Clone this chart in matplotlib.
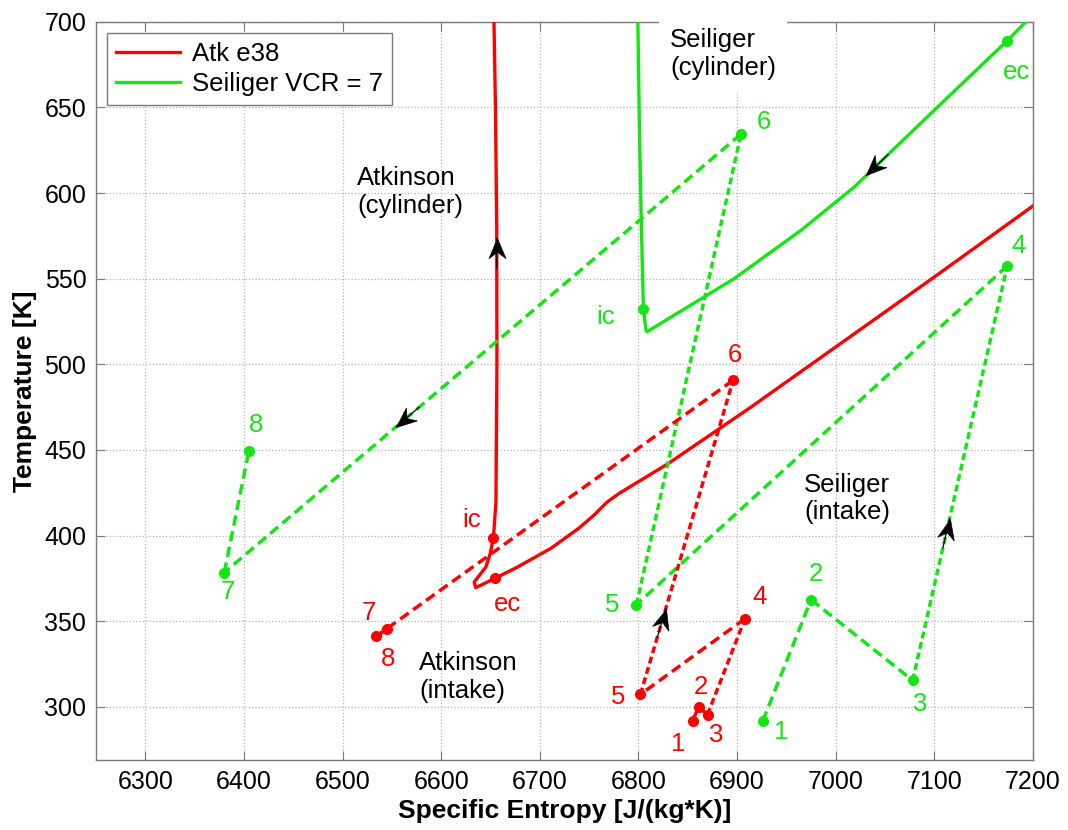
import matplotlib
matplotlib.use("Agg")
import matplotlib.pyplot as plt
import numpy as np
from matplotlib.path import Path
from matplotlib.markers import MarkerStyle

plt.rcParams["font.family"] = ["Liberation Sans", "DejaVu Sans"]

# ── data ──────────────────────────────────────────────────────────────────────
# numbered intake states 1..8
atk_s = [6855, 6861, 6870, 6908, 6802, 6896, 6534, 6545]
atk_T = [292.0, 300.0, 295.5, 351.5, 307.3, 490.7, 341.2, 345.3]
sei_s = [6926, 6975, 7078, 7174, 6798, 6904, 6380, 6405]
sei_T = [291.7, 362.6, 315.5, 557.5, 359.7, 634.4, 378.4, 449.4]
state_labels = ["1", "2", "3", "4", "5", "6", "7", "8"]

# cylinder curves
atk_cyl_s = [7215, 7100, 6985, 6914, 6830, 6780, 6768, 6755, 6740, 6711,
             6677.5, 6655, 6643.6, 6635, 6633.5, 6645.3, 6649.7, 6653,
             6655.5, 6656.5, 6656.3, 6655, 6653.5, 6652.5]
atk_cyl_T = [598.7, 551, 504, 475, 442, 424.5, 419.5, 412, 404.5, 392.5,
             381.7, 375.2, 372, 369.6, 372.9, 381.7, 389.5, 398.8,
             420, 500, 580, 650, 700, 720]
sei_cyl_s = [7205, 7174, 7100, 7019, 6965, 6897, 6808.6, 6807.6, 6805,
             6802.7, 6801, 6799.4, 6799]
sei_cyl_T = [707, 689, 648.4, 603.6, 578.3, 550, 519, 520, 532.2,
             588, 637, 700, 710]

# intake / exhaust closing markers
valve_labels = ["ic", "ec"]
atk_valve_s = [6653, 6655]
atk_valve_T = [398.8, 375.2]
sei_valve_s = [6805, 7174]
sei_valve_T = [532.2, 689.0]

RED = "#ff0000"
GREEN = "#14e614"

fig = plt.figure(figsize=(10.68, 8.3), dpi=100)
ax = fig.add_axes([0.0899, 0.0843, 0.8773, 0.8895])
ax.set_xlim(6250, 7200)
ax.set_ylim(269, 700)


def draw_intake(s, T, color, short_segs):
    for i in range(len(s) - 1):
        ls = (0, (2, 1.1)) if i in short_segs else (0, (3, 1.6))
        ax.plot(s[i:i + 2], T[i:i + 2], color=color, lw=2.5, linestyle=ls,
                zorder=3)
    ax.plot(s, T, linestyle="none", marker="o", ms=7, color=color, zorder=4)


def arrow_on(s, T, i, t):
    # black arrowhead on segment i -> i+1, at fraction t, pointing along it
    p0 = ax.transData.transform((s[i], T[i]))
    p1 = ax.transData.transform((s[i + 1], T[i + 1]))
    tip = p0 + t * (p1 - p0)
    d = (p1 - p0) / np.hypot(*(p1 - p0))
    ang = np.degrees(np.arctan2(d[1], d[0]))
    tail = tip - 30 * d
    inv = ax.transData.inverted()
    tip_d = inv.transform(tip)
    tail_d = inv.transform(tail)
    ax.plot([tail_d[0], tip_d[0]], [tail_d[1], tip_d[1]], color="k", lw=0.9,
            zorder=6)
    head = Path([(0, 0), (-1, 0.42), (-0.68, 0), (-1, -0.42), (0, 0)],
                [Path.MOVETO, Path.LINETO, Path.LINETO, Path.LINETO,
                 Path.CLOSEPOLY])
    ax.plot(tip_d[0], tip_d[1], linestyle="none",
            marker=MarkerStyle(head).rotated(deg=ang), ms=29,
            color="k", mec="k", mew=0.5, zorder=7)


# cylinder curves
line_atk, = ax.plot(atk_cyl_s, atk_cyl_T, color=RED, lw=2.4, zorder=3,
                    label="Atk e38")
line_sei, = ax.plot(sei_cyl_s, sei_cyl_T, color=GREEN, lw=2.4, zorder=3,
                    label="Seiliger VCR = 7")
ax.plot(atk_valve_s, atk_valve_T, linestyle="none", marker="o", ms=7,
        color=RED, zorder=4)
ax.plot(sei_valve_s, sei_valve_T, linestyle="none", marker="o", ms=7,
        color=GREEN, zorder=4)

# intake loops (segments 3->4 and 5->6 use shorter dashes)
draw_intake(sei_s, sei_T, GREEN, short_segs={2, 4})
draw_intake(atk_s, atk_T, RED, short_segs={2, 4})

# direction arrows
arrow_on(atk_s, atk_T, 4, 0.273)
arrow_on(sei_s, sei_T, 2, 0.39)
arrow_on(sei_s, sei_T, 5, 0.667)
arrow_on(atk_cyl_s, atk_cyl_T, 19, 0.92)
arrow_on(sei_cyl_s, sei_cyl_T, 2, 0.85)

# state labels (offsets in points from the marker)
atk_offsets = [(-10.8, -16.6), (1.9, 14.4), (6, -14.9), (10.8, 15.6),
               (-16, -1.9), (1.2, 18), (-5.3, 17), (0.5, -21.6)]
sei_offsets = [(13.2, -7.9), (3.6, 18.2), (5.3, -16.8), (8.4, 14.4),
               (-17.5, -0.5), (16.3, 8.9), (2.4, -14), (5.5, 18.5)]
for s, T, offs, color in [(atk_s, atk_T, atk_offsets, RED),
                          (sei_s, sei_T, sei_offsets, GREEN)]:
    for x, y, lab, off in zip(s, T, state_labels, offs):
        ax.annotate(lab, (x, y), xytext=off, textcoords="offset points",
                    ha="center", va="center", fontsize=18.5, color=color,
                    zorder=8)

atk_valve_off = [(-15.8, 13), (8.9, -18.9)]
sei_valve_off = [(-26.9, -5.5), (6.7, -22.3)]
for s, T, offs, color in [(atk_valve_s, atk_valve_T, atk_valve_off, RED),
                          (sei_valve_s, sei_valve_T, sei_valve_off, GREEN)]:
    for x, y, lab, off in zip(s, T, valve_labels, offs):
        ax.annotate(lab, (x, y), xytext=off, textcoords="offset points",
                    ha="center", va="center", fontsize=18.5, color=color,
                    zorder=8)

# region annotations (va="baseline" aligns the second line)
txt = dict(fontsize=18.5, ha="left", va="baseline", linespacing=1.2, zorder=8)
ax.text(6515, 588.6, "Atkinson\n(cylinder)", **txt)
ax.text(6832, 668.8, "Seiliger\n(cylinder)",
        bbox=dict(boxstyle="square,pad=0.42", fc="white", ec="none"), **txt)
ax.text(6968, 409.5, "Seiliger\n(intake)", **txt)
ax.text(6577.6, 305.2, "Atkinson\n(intake)", **txt)

# axes styling, MATLAB-like
ax.set_xticks(np.arange(6300, 7201, 100))
ax.set_yticks(np.arange(300, 701, 50))
ax.grid(True, linestyle=":", color="#b4b4b4", lw=0.9)
ax.tick_params(direction="in", length=6.5, width=0.8, top=True, right=True,
               labelsize=18, pad=7, color="#7a7a7a")
for sp in ax.spines.values():
    sp.set_color("#7a7a7a")
    sp.set_linewidth(1.0)
ax.set_xlabel("Specific Entropy [J/(kg*K)]", fontsize=19, fontweight="bold",
              labelpad=4)
ax.set_ylabel("Temperature [K]", fontsize=19, fontweight="bold", labelpad=5)

leg = ax.legend(handles=[line_atk, line_sei], loc="upper left", fontsize=18.5,
                handlelength=2.5, borderaxespad=0.42, labelspacing=0.25,
                fancybox=False, framealpha=1, borderpad=0.35,
                handletextpad=0.45)
leg.get_frame().set_edgecolor("#7a7a7a")
leg.get_frame().set_linewidth(1.0)
leg.set_zorder(10)

fig.savefig("out.png", dpi=100)
